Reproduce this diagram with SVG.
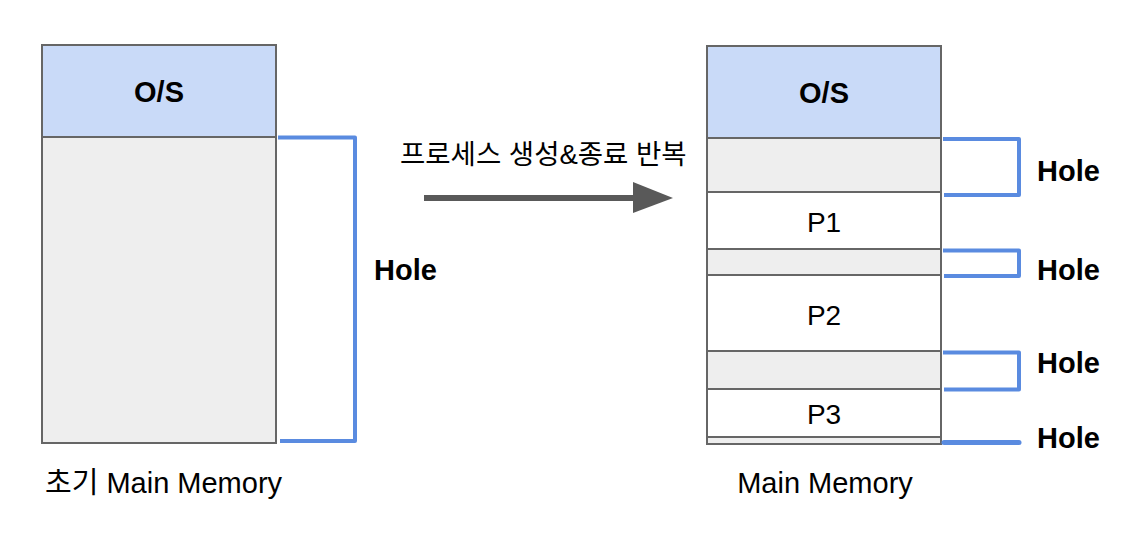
<svg xmlns="http://www.w3.org/2000/svg" width="1136" height="540" viewBox="0 0 1136 540">
<style>
.os{fill:#c9daf8;stroke:#666666;stroke-width:2}
.hole{fill:#eeeeee;stroke:#666666;stroke-width:2}
.proc{fill:#ffffff;stroke:#666666;stroke-width:2}
.br{fill:none;stroke:#5a8be0;stroke-width:4;stroke-linejoin:round}
.b{font-family:"Liberation Sans",Arial,sans-serif;font-weight:bold;font-size:29px;fill:#000}
.r{font-family:"Liberation Sans",Arial,sans-serif;font-size:28px;fill:#000}
.m{font-family:"Liberation Sans","Noto Sans CJK KR",sans-serif;font-size:29px;fill:#000}
.k{font-family:"Liberation Sans","Noto Sans CJK KR",sans-serif;font-size:27.5px;fill:#000}
</style>
<rect width="1136" height="540" fill="#ffffff"/>
<g id="left-memory">
<rect class="hole" x="42" y="137" width="234" height="306"/>
<rect class="os" x="42" y="45" width="234" height="92"/>
<text class="b" x="159" y="102" text-anchor="middle">O/S</text>
</g>
<g id="right-memory">
<rect class="os" x="707" y="46" width="234" height="92"/>
<text class="b" x="824" y="103" text-anchor="middle">O/S</text>
<rect class="hole" x="707" y="138" width="234" height="54"/>
<rect class="proc" x="707" y="192" width="234" height="57"/>
<text class="r" x="824" y="232" text-anchor="middle">P1</text>
<rect class="hole" x="707" y="249" width="234" height="26"/>
<rect class="proc" x="707" y="275" width="234" height="76"/>
<text class="r" x="824" y="325" text-anchor="middle">P2</text>
<rect class="hole" x="707" y="351" width="234" height="38"/>
<rect class="proc" x="707" y="389" width="234" height="48"/>
<text class="r" x="824" y="424" text-anchor="middle">P3</text>
<rect class="hole" x="707" y="437" width="234" height="7"/>
</g>
<g id="connectors">
<path class="br" d="M278 137.5 H355 V441 H280"/>
<path class="br" d="M943 139 H1019 V195 H944"/>
<path class="br" d="M943 250.5 H1019 V276 H944"/>
<path class="br" d="M943 352.5 H1019 V389.5 H944"/>
<path d="M944 442.5 H1019" fill="none" stroke="#5a8be0" stroke-width="5" stroke-linecap="round"/>
<path d="M424 198 H636" stroke="#595959" stroke-width="6"/>
<polygon points="633,182 673,198 633,213" fill="#595959"/>
</g>
<g id="labels">
<text class="b" x="374" y="280">Hole</text>
<text class="b" x="1037" y="181">Hole</text>
<text class="b" x="1037" y="280">Hole</text>
<text class="b" x="1037" y="373">Hole</text>
<text class="b" x="1037" y="448">Hole</text>
<text class="k" x="400" y="164">프로세스 생성&amp;종료 반복</text>
<text class="m" x="45" y="493">초기 Main Memory</text>
<text class="m" x="825" y="493" text-anchor="middle">Main Memory</text>
</g>
</svg>
